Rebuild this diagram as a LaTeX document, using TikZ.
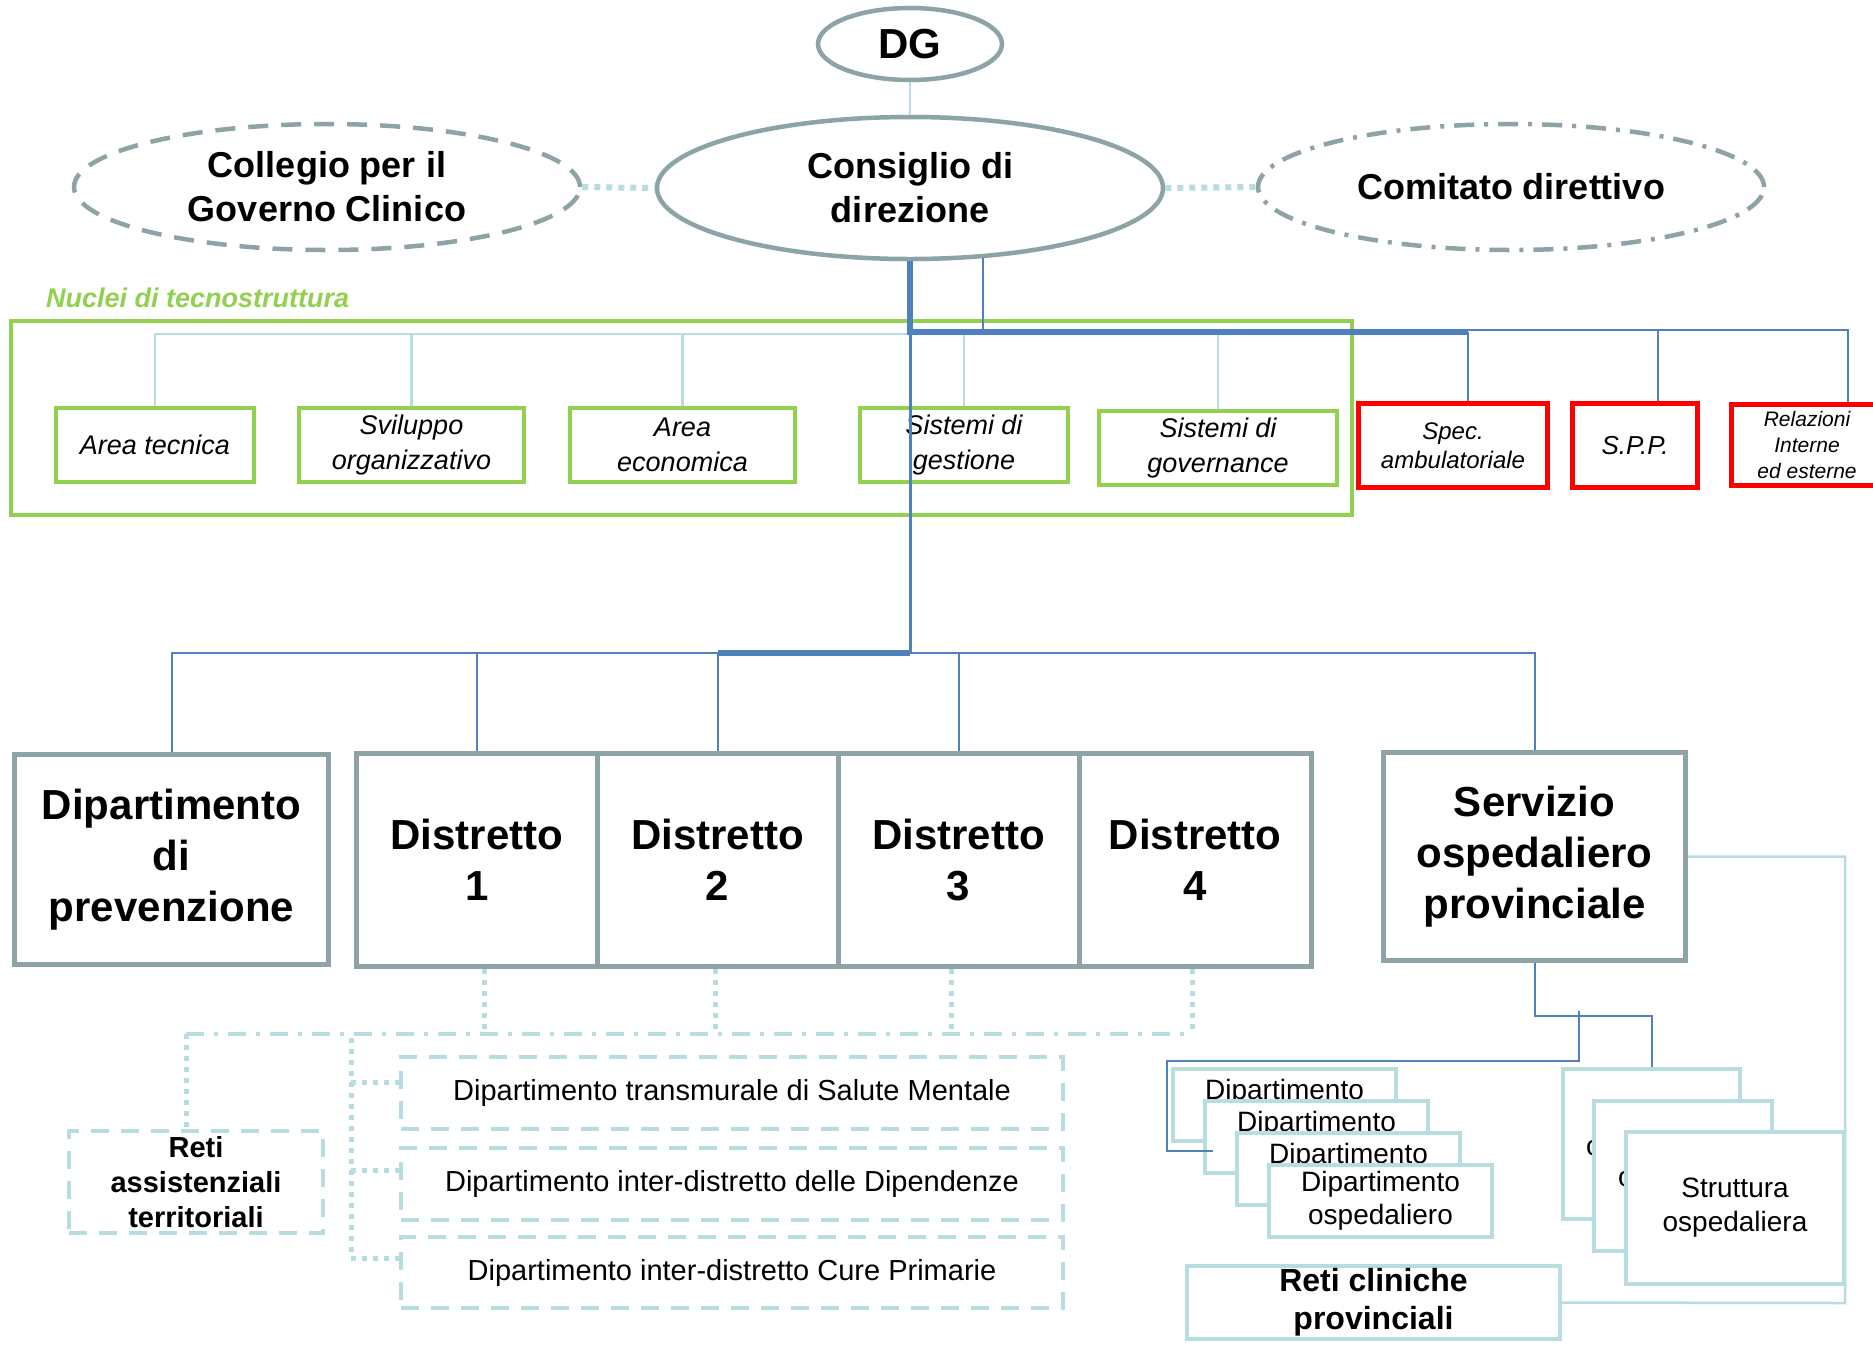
\documentclass[tikz,border=0pt]{standalone}
\usepackage{fontspec}
\setmainfont{Liberation Sans}
\usetikzlibrary{shapes.geometric}
\definecolor{gry}{RGB}{141,163,166}
\definecolor{lb}{RGB}{183,221,225}
\definecolor{bl}{RGB}{79,129,189}
\definecolor{gr}{RGB}{146,208,80}
\definecolor{rd}{RGB}{255,0,0}
\begin{document}
\begin{tikzpicture}[x=1pt,y=-1pt,
  ell/.style={ellipse, draw=gry, line width=4.5pt, inner sep=0pt, align=center},
  ftbig/.style={font=\fontsize{42}{51}\selectfont\bfseries},
  ftmid/.style={font=\fontsize{36}{44}\selectfont\bfseries},
  gbox/.style={rectangle, draw=gr, line width=4pt, inner sep=0pt, align=center, font=\fontsize{27}{35}\selectfont\itshape},
  rbox/.style={rectangle, draw=rd, line width=5pt, inner sep=0pt, align=center},
  graybox/.style={rectangle, draw=gry, line width=5pt, inner sep=0pt, align=center, ftbig},
  ldash/.style={rectangle, draw=lb, line width=4pt, dash pattern=on 18pt off 12pt, inner sep=0pt, align=center},
  lbox/.style={rectangle, draw=lb, line width=4pt, fill=white, inner sep=0pt, align=center},
  smalltxt/.style={inner sep=0pt, font=\fontsize{28}{33}\selectfont},
  bthin/.style={draw=bl, line width=2pt},
  bmid/.style={draw=bl, line width=3pt},
  bthick/.style={draw=bl, line width=6pt},
  lbthin/.style={draw=lb, line width=2.5pt},
  topdot/.style={draw=lb, line width=6pt, dash pattern=on 6pt off 6pt},
  lbdot/.style={draw=lb, line width=5pt, dash pattern=on 5pt off 6pt},
  lbdashdot/.style={draw=lb, line width=4pt, dash pattern=on 18pt off 10pt on 4pt off 10pt}
]
\useasboundingbox (0,0) rectangle (1873,1345);
\clip (0,0) rectangle (1873,1345);
\fill[white] (0,0) rectangle (1873,1345);

% top ellipses
\node[ell, minimum width=184pt, minimum height=72pt, font=\fontsize{42}{50}\selectfont\bfseries] (dg) at (910,44) {DG};
\node[ell, minimum width=506pt, minimum height=142pt, ftmid] (cons) at (910,188) {Consiglio di\\direzione};
\node[ell, dash pattern=on 20pt off 13pt, minimum width=506pt, minimum height=126pt, ftmid] (coll) at (327,187) {Collegio per il\\Governo Clinico};
\node[ell, dash pattern=on 20pt off 10pt on 4pt off 10pt, minimum width=506pt, minimum height=126pt, ftmid] (comi) at (1511,187) {Comitato direttivo};

% nuclei
\node[anchor=west, text=gr, inner sep=0pt, font=\fontsize{27}{32}\selectfont\bfseries\itshape] (nlab) at (46,298) {Nuclei di tecnostruttura};
\node[rectangle, draw=gr, line width=4pt, minimum width=1341pt, minimum height=194pt, inner sep=0pt] (nucbox) at (681.5,418) {};
\node[gbox, minimum width=198pt, minimum height=74pt] (at) at (155,445) {Area tecnica};
\node[gbox, minimum width=225pt, minimum height=74pt] (sv) at (411.5,445) {Sviluppo\\organizzativo};
\node[gbox, minimum width=225pt, minimum height=74pt] (ae) at (682.5,445) {Area\\economica};
\node[gbox, minimum width=208pt, minimum height=74pt] (sg) at (964,445) {Sistemi di\\gestione};
\node[gbox, minimum width=238pt, minimum height=74pt] (sgov) at (1218,448) {Sistemi di\\governance};

% red boxes
\node[rbox, minimum width=189pt, minimum height=84pt, font=\fontsize{24}{29}\selectfont\itshape] (spec) at (1453,445.5) {Spec.\\ambulatoriale};
\node[rbox, minimum width=125pt, minimum height=84pt, font=\fontsize{26}{31}\selectfont\itshape] (spp) at (1635,445.5) {S.P.P.};
\node[rbox, minimum width=151pt, minimum height=81pt, font=\fontsize{21}{26}\selectfont\itshape] (rel) at (1807,445) {Relazioni\\Interne\\ed esterne};

% main row
\node[graybox, minimum width=314pt, minimum height=210pt] (dprev) at (171.5,859.5) {Dipartimento\\di\\prevenzione};
\node[graybox, minimum width=240.5pt, minimum height=213pt] (d1) at (476.75,860) {Distretto\\1};
\node[graybox, minimum width=241pt, minimum height=213pt] (d2) at (717.5,860) {Distretto\\2};
\node[graybox, minimum width=241pt, minimum height=213pt] (d3) at (958.5,860) {Distretto\\3};
\node[graybox, minimum width=232.5pt, minimum height=213pt] (d4) at (1195.25,860) {Distretto\\4};
\node[graybox, minimum width=302pt, minimum height=208pt] (serv) at (1534.5,856.5) {Servizio\\ospedaliero\\provinciale};

% lower left
\node[ldash, minimum width=254pt, minimum height=102pt, font=\fontsize{29}{35}\selectfont\bfseries] (ra) at (196,1182) {Reti\\assistenziali\\territoriali};
\node[ldash, minimum width=662pt, minimum height=72pt, font=\fontsize{29}{35}\selectfont] (b1) at (732,1093) {Dipartimento transmurale di Salute Mentale};
\node[ldash, minimum width=662pt, minimum height=72pt, font=\fontsize{29}{35}\selectfont] (b2) at (732,1184) {Dipartimento inter-distretto delle Dipendenze};
\node[ldash, minimum width=662pt, minimum height=71pt, font=\fontsize{29}{35}\selectfont] (b3) at (732,1272.5) {Dipartimento inter-distretto Cure Primarie};

% stacked dipartimento boxes (each covered by the next one)
\node[lbox, minimum width=223pt, minimum height=72pt] (da) at (1284.5,1105) {};
\node[smalltxt] (dat) at (1284.5,1092) {Dipartimento};
\node[lbox, minimum width=223pt, minimum height=72pt] (db) at (1316.5,1137) {};
\node[smalltxt] (dbt) at (1316.5,1124) {Dipartimento};
\node[lbox, minimum width=223pt, minimum height=72pt] (dc) at (1348.5,1169) {};
\node[smalltxt] (dct) at (1348.5,1156) {Dipartimento};
\node[lbox, minimum width=223pt, minimum height=72pt, font=\fontsize{28}{33}\selectfont] (dd) at (1380.5,1201) {Dipartimento\\ospedaliero};

% stacked struttura boxes
\node[lbox, minimum width=177pt, minimum height=150pt] (sa) at (1651.5,1144) {};
\node[smalltxt] (sat) at (1594,1148) {o};
\node[lbox, minimum width=178pt, minimum height=150pt] (sb) at (1683,1176) {};
\node[smalltxt] (sbt) at (1626,1179) {o};
\node[lbox, minimum width=218pt, minimum height=152pt, font=\fontsize{28}{34}\selectfont] (sc) at (1735,1208) {Struttura\\ospedaliera};

\node[lbox, minimum width=373pt, minimum height=73pt, font=\fontsize{32}{38}\selectfont\bfseries] (rc) at (1373.5,1302.5) {Reti cliniche\\provinciali};

% ---- connectors ----
\draw[lbthin] (dg.south) -- (cons.north);
\draw[topdot] (coll.east) -- (cons.west);
\draw[topdot] (cons.east) -- (comi.west);

% nuclei bus
\coordinate (nb) at (0,334);
\draw[lbthin] (at.north) |- (nb -| sgov.north) -- (sgov.north);
\foreach \n in {sv,ae,sg} \draw[lbthin] (\n.north) -- (\n.north |- nb);

% blue top lines
\coordinate (j1) at (910,332);
\coordinate (jspec) at (1468,332);
\draw[bthin] (cons.-44) |- (1848,330) -- (1848,0 |- rel.north);
\draw[bthin] (1658,330) -- (1658,0 |- spp.north);
\draw[bthin] (jspec) -- (1468,0 |- spec.north);
\draw[bthick] (cons.south) -- (j1) -- (jspec);

% trunk to main row
\coordinate (hb) at (910,653);
\draw[bmid] (j1) -- (hb);
\draw[bthin] (dprev.north) |- (hb) -| (serv.north);
\draw[bthick] (d2.north |- hb) -- (hb);
\foreach \n in {d1,d2,d3} \draw[bthin] (\n.north) -- (\n.north |- hb);

% dotted from districts
\draw[lbdashdot] (186,1034) -- (1192,1034);
\draw[lbdot] (484,0 |- d1.south) -- (484,1034);
\draw[lbdot] (715,0 |- d2.south) -- (715,1034);
\draw[lbdot] (951,0 |- d3.south) -- (951,1034);
\draw[lbdot] (1192,0 |- d4.south) -- (1192,1034);
\draw[lbdot] (186,1034) -- (186,0 |- ra.north);
\draw[lbdot] (351,1038) -- (351,1258);
\draw[lbdot] (351,1082) -- (b1.west |- 0,1082);
\draw[lbdot] (351,1170) -- (b2.west |- 0,1170);
\draw[lbdot] (351,1258) -- (b3.west |- 0,1258);

% servizio connectors
\draw[bthin] (serv.south) -- (serv.south |- 0,1016) -| (sa.north);
\draw[bthin] (1579,1011) |- (1167,1061) |- (1213,1151);
\draw[lbthin] (serv.east) -| (1845,1303) -- (rc.east);
\end{tikzpicture}
\end{document}
